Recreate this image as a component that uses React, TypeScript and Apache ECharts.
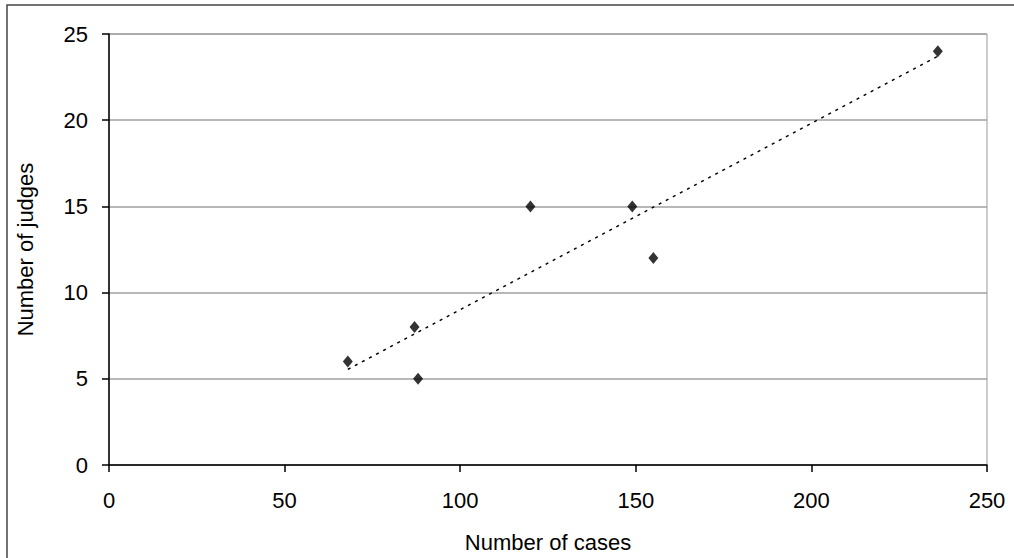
import React, { useEffect, useRef } from "react";
import * as echarts from "echarts";

const casesData: number[] = [68, 87, 88, 120, 149, 155, 236];
const judgesData: number[] = [6, 8, 5, 15, 15, 12, 24];
const xTitle = "Number of cases";
const yTitle = "Number of judges";

function linearFit(xs: number[], ys: number[]) {
  const n = xs.length;
  const mx = xs.reduce((a, b) => a + b, 0) / n;
  const my = ys.reduce((a, b) => a + b, 0) / n;
  let sxy = 0;
  let sxx = 0;
  for (let i = 0; i < n; i++) {
    sxy += (xs[i] - mx) * (ys[i] - my);
    sxx += (xs[i] - mx) * (xs[i] - mx);
  }
  const slope = sxy / sxx;
  return { slope, intercept: my - slope * mx };
}

export default function App() {
  const ref = useRef<HTMLDivElement>(null);
  useEffect(() => {
    if (!ref.current) return;
    const chart = echarts.init(ref.current, null, { renderer: "svg" });
    const fit = linearFit(casesData, judgesData);
    const xMin = Math.min(...casesData);
    const xMax = Math.max(...casesData);
    const trend = [
      [xMin, fit.intercept + fit.slope * xMin],
      [xMax, fit.intercept + fit.slope * xMax],
    ];
    const font = "'Liberation Sans', Arial, sans-serif";
    chart.setOption({
      animation: false,
      backgroundColor: "#ffffff",
      textStyle: { fontFamily: font },
      grid: {
        left: 109,
        top: 34,
        right: 27,
        bottom: 93,
        show: true,
        borderColor: "#999999",
        borderWidth: 1,
        backgroundColor: "transparent",
      },
      graphic: [
        {
          type: "rect",
          shape: { x: 7, y: 5, width: 1020, height: 570 },
          style: { fill: "none", stroke: "#444444", lineWidth: 1.5 },
          silent: true,
        },
      ],
      xAxis: {
        type: "value",
        min: 0,
        max: 250,
        interval: 50,
        name: xTitle,
        nameLocation: "middle",
        nameGap: 66,
        nameTextStyle: { fontSize: 22, color: "#000", fontFamily: font },
        axisLine: { show: true, onZero: false, lineStyle: { color: "#000", width: 1.5 } },
        axisTick: { show: true, inside: false, length: 7, lineStyle: { color: "#000", width: 1.5 } },
        axisLabel: { fontSize: 22, color: "#000", margin: 24, fontFamily: font },
        splitLine: { show: false },
      },
      yAxis: {
        type: "value",
        min: 0,
        max: 25,
        interval: 5,
        name: yTitle,
        nameLocation: "middle",
        nameGap: 73,
        nameTextStyle: { fontSize: 22, color: "#000", fontFamily: font },
        axisLine: { show: true, onZero: false, lineStyle: { color: "#000", width: 1.5 } },
        axisTick: { show: true, inside: false, length: 7, lineStyle: { color: "#000", width: 1.5 } },
        axisLabel: { fontSize: 22, color: "#000", margin: 21, fontFamily: font },
        splitLine: { show: true, lineStyle: { color: "#a0a0a0", width: 1.5 } },
      },
      series: [
        {
          type: "line",
          data: trend,
          showSymbol: false,
          symbol: "none",
          lineStyle: { color: "#000", width: 1.5, type: [3, 5] },
          z: 2,
          silent: true,
        },
        {
          type: "scatter",
          data: casesData.map((c, i) => [c, judgesData[i]]),
          symbol: "diamond",
          symbolSize: [10, 12],
          itemStyle: { color: "#000" },
          z: 3,
        },
      ],
    });
    return () => chart.dispose();
  }, []);
  return (
    <div
      ref={ref}
      style={{ position: "fixed", left: 0, top: 0, width: 1014, height: 558 }}
    />
  );
}
